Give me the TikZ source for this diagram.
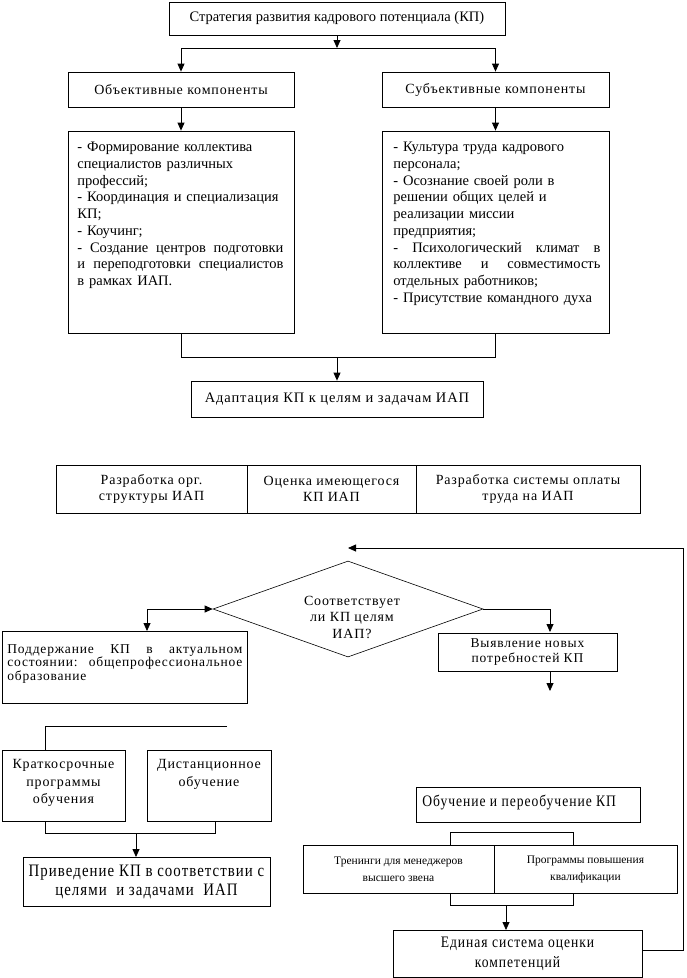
\documentclass[tikz,border=0pt]{standalone}
\usepackage{fontspec}
\setmainfont{Liberation Serif}
\newfontfamily\spc{Liberation Serif}[LetterSpace=6]
\newfontfamily\cnd{Liberation Serif}[FakeStretch=0.85,LetterSpace=6]
\usetikzlibrary{arrows.meta,shapes.geometric}
\tikzset{
  box/.style={draw, inner sep=0pt, align=center},
  txt/.style={inner sep=0pt, align=left},
  lnk/.style={line width=0.8pt},
  arr/.style={line width=0.8pt, -{Triangle[length=8pt,width=7pt]}},
  darr/.style={line width=0.8pt, {Triangle[length=8pt,width=7pt]}-{Triangle[length=8pt,width=7pt]}}
}
\newcommand{\jl}[1]{\leavevmode\hbox to \hsize{\spaceskip=0.3em plus 20em\xspaceskip=0.3em plus 20em #1}}
\begin{document}
\begin{tikzpicture}[x=1pt,y=-1pt,line width=0.8pt]
\useasboundingbox (0,0) rectangle (686,978);
% top part
\node[box, minimum width=336pt, minimum height=33pt, font=\fontsize{14.5}{17}\selectfont] (top) at (337,18.5) {Стратегия развития кадрового потенциала (КП)};
\node[box, minimum width=226pt, minimum height=35pt, font=\spc\fontsize{14}{17}\selectfont] (obj) at (181,89.5) {Объективные компоненты};
\node[box, minimum width=227pt, minimum height=35pt, font=\spc\fontsize{14}{17}\selectfont] (sub) at (495.5,89.5) {Субъективные компоненты};
\node[box, minimum width=226pt, minimum height=202pt] (listL) at (181,232) {};
\node[box, minimum width=227pt, minimum height=202pt] (listR) at (495.5,232) {};
\node[txt, anchor=north west, text width=206pt, font=\fontsize{14.5}{16.7}\selectfont] (listLt) at (77,142) {%
- Формирование коллектива\\
специалистов различных\\
профессий;\\
- Координация и специализация\\
КП;\\
- Коучинг;\\
\jl{- Создание центров подготовки}\\
\jl{и переподготовки специалистов}\\
в рамках ИАП.};
\node[txt, anchor=north west, text width=207pt, font=\fontsize{14.5}{16.7}\selectfont] (listRt) at (393,142) {%
- Культура труда кадрового\\
персонала;\\
- Осознание своей роли в\\
решении общих целей и\\
реализации миссии\\
предприятия;\\
\jl{- Психологический климат в}\\
\jl{коллективе и совместимость}\\
отдельных работников;\\
- Присутствие командного духа};
\node[box, minimum width=292pt, minimum height=36pt, font=\spc\fontsize{14.5}{17}\selectfont] (adapt) at (337,399) {Адаптация КП к целям и задачам ИАП};
\coordinate (j1) at (337,48);
\coordinate (j2) at (337,357);
\draw[arr] (top.south) -- (j1);
\draw[arr] (j1) -| (obj.north);
\draw[arr] (j1) -| (sub.north);
\draw[arr] (obj.south) -- (listL.north);
\draw[arr] (sub.south) -- (listR.north);
\draw[lnk] (listL.south) |- (j2);
\draw[lnk] (listR.south) |- (j2);
\draw[arr] (j2) -- (adapt.north);
% row
\node[box, minimum width=191pt, minimum height=48pt, font=\spc\fontsize{14}{16.5}\selectfont] (r1) at (151.5,489) {Разработка орг.\\структуры ИАП};
\node[box, minimum width=169pt, minimum height=48pt, font=\spc\fontsize{14}{16.5}\selectfont] (r2) at (331.5,489) {Оценка имеющегося\\КП ИАП};
\node[box, minimum width=224pt, minimum height=48pt, font=\spc\fontsize{14}{16.5}\selectfont] (r3) at (528,489) {Разработка системы оплаты\\труда на ИАП};
% diamond
\node[diamond, draw, line width=0.6pt, minimum width=270pt, minimum height=96pt, inner sep=0pt] (dia) at (348,609) {};
\node[box, draw=none, font=\spc\fontsize{14}{16.5}\selectfont] (diat) at (352,617) {Соответствует\\ли КП целям\\ИАП?};
\node[box, minimum width=245pt, minimum height=72pt] (podd) at (124.5,667) {};
\node[txt, anchor=north west, text width=235pt, font=\spc\fontsize{13.5}{13.6}\selectfont] (poddt) at (7,644) {%
\jl{Поддержание КП в актуальном}\\
\jl{состоянии: общепрофессиональное}\\
образование};
\node[box, minimum width=179pt, minimum height=38pt, font=\spc\fontsize{13.5}{14.3}\selectfont] (vyav) at (527.5,652) {Выявление новых\\потребностей КП};
\coordinate (c1) at (147,631);
\coordinate (c2) at (550,632);
\coordinate (c3) at (550,671);
\coordinate (c4) at (550,691);
\draw[darr] (c1) |- (dia.west);
\draw[arr] (dia.east) -| (c2);
\draw[arr] (c3) -- (c4);
% lower left
\node[box, minimum width=123pt, minimum height=71pt] (kratk) at (63.5,785.5) {};
\node[box, draw=none, font=\spc\fontsize{14}{17.5}\selectfont] (kratkt) at (63.5,783) {Краткосрочные\\программы\\обучения};
\node[box, minimum width=124pt, minimum height=71pt] (dist) at (209,785.5) {};
\node[box, draw=none, anchor=north, font=\spc\fontsize{14}{17.5}\selectfont] (distt) at (209,759) {Дистанционное\\обучение};
\node[box, minimum width=247pt, minimum height=49pt, font=\cnd\fontsize{17.5}{19}\selectfont] (prived) at (146.5,881.5) {Приведение КП в соответствии с\\целями\ \ и задачами\ \ ИАП};
\coordinate (k1) at (45,726);
\coordinate (k2) at (227,726);
\coordinate (k3) at (45,750);
\coordinate (b0) at (45,821);
\coordinate (b1) at (45,833);
\coordinate (b2) at (215,833);
\coordinate (b3) at (215,821);
\coordinate (b4) at (136,833);
\coordinate (b5) at (136,857);
\draw[lnk] (k2) -- (k1) -- (k3);
\draw[lnk] (b0) -- (b1) -- (b2) -- (b3);
\draw[arr] (b4) -- (b5);
% lower right
\node[box, minimum width=224pt, minimum height=35pt] (obuch) at (528,804.5) {};
\node[txt, anchor=west, font=\cnd\fontsize{16}{17}\selectfont] (obucht) at (422,802) {Обучение и переобучение КП};
\node[box, minimum width=191pt, minimum height=48pt, font=\fontsize{11.5}{17}\selectfont] (tren) at (398.5,869) {Тренинги для менеджеров\\высшего звена};
\node[box, minimum width=183pt, minimum height=48pt, font=\fontsize{11.5}{17}\selectfont] (prog) at (585.5,869) {Программы повышения\\квалификации};
\node[box, minimum width=249pt, minimum height=47pt, font=\cnd\fontsize{16}{20}\selectfont] (edin) at (517.5,953.5) {Единая система оценки\\компетенций};
\coordinate (t0) at (450,845);
\coordinate (t1) at (450,832);
\coordinate (t2) at (573,832);
\coordinate (t3) at (573,845);
\coordinate (u0) at (450,893);
\coordinate (u1) at (450,905);
\coordinate (u2) at (573,905);
\coordinate (u3) at (573,893);
\coordinate (u4) at (506,905);
\coordinate (u5) at (506,930);
\draw[lnk] (t0) -- (t1) -- (t2) -- (t3);
\draw[lnk] (u0) -- (u1) -- (u2) -- (u3);
\draw[arr] (u4) -- (u5);
\coordinate (f0) at (642,950);
\coordinate (f1) at (683,950);
\coordinate (f2) at (683,548);
\coordinate (f3) at (348,548);
\draw[arr] (f0) -- (f1) -- (f2) -- (f3);
\end{tikzpicture}
\end{document}
